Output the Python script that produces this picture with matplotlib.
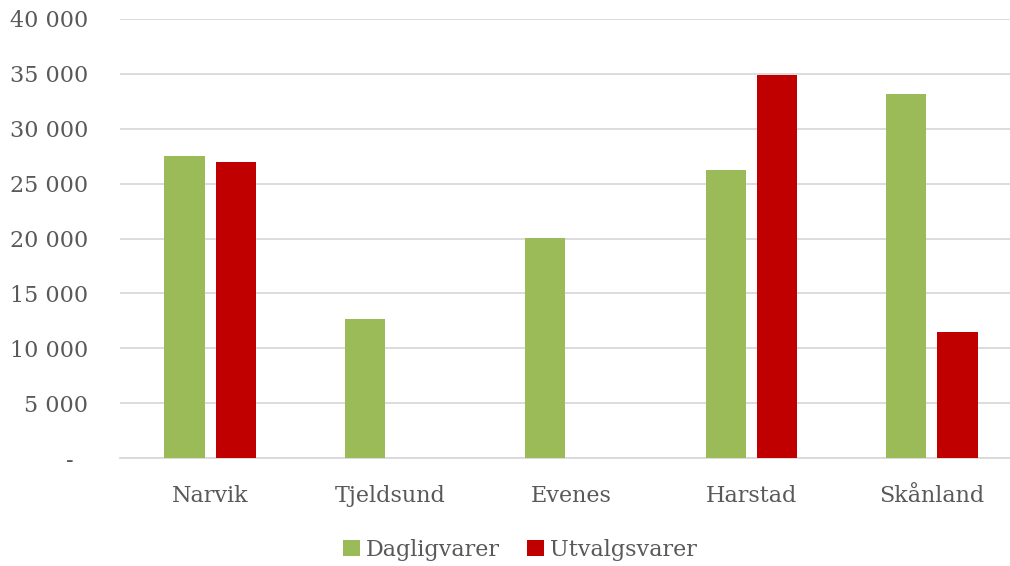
import matplotlib.pyplot as plt
import numpy as np

kommuner = ['Narvik', 'Tjeldsund', 'Evenes', 'Harstad', 'Skånland']
dagligvarer = [27500, 12700, 20050, 26200, 33200]
utvalgsvarer = [27000, 0, 0, 34900, 11470]

plt.rcParams['font.family'] = ['DejaVu Serif']
txt = '#595959'

fig = plt.figure(figsize=(10.1, 5.66), dpi=100)
ax = fig.add_axes([120 / 1010, 1 - 458.3 / 566, 902 / 1010, (458.3 - 18.8) / 566])

x = np.arange(len(kommuner))
w = 0.223
off = 0.142
ax.bar(x - off, dagligvarer, w, color='#9BBB59', label='Dagligvarer', zorder=3)
ax.bar(x + off, utvalgsvarer, w, color='#C00000', label='Utvalgsvarer', zorder=3)

ax.set_xlim(-0.5, len(kommuner) - 0.5)
ax.set_ylim(0, 40000)
yt = np.arange(0, 40001, 5000)
ax.set_yticks(yt)
# accounting style: zero shown as a dash, padded like Excel
ax.set_yticklabels(['-  '] + [f'{v:,}'.replace(',', ' ') for v in yt[1:]])
ax.set_xticks(x)
ax.set_xticklabels(kommuner)
ax.tick_params(axis='both', length=0, colors=txt, labelsize=16)
ax.tick_params(axis='y', pad=23)
ax.tick_params(axis='x', pad=19)

ax.grid(axis='y', color='#D9D9D9', linewidth=1.3, zorder=0)
for s in ['top', 'right', 'left']:
    ax.spines[s].set_visible(False)
ax.spines['bottom'].set_color('#D9D9D9')
ax.spines['bottom'].set_linewidth(1.3)

leg = fig.legend(loc='center', bbox_to_anchor=(520 / 1010, 1 - 550 / 566), ncol=2, frameon=False,
                 fontsize=16, handlelength=0.75, handleheight=0.75, handletextpad=0.3, columnspacing=1.2)
for t in leg.get_texts():
    t.set_color(txt)

fig.savefig('out.png', dpi=100)
